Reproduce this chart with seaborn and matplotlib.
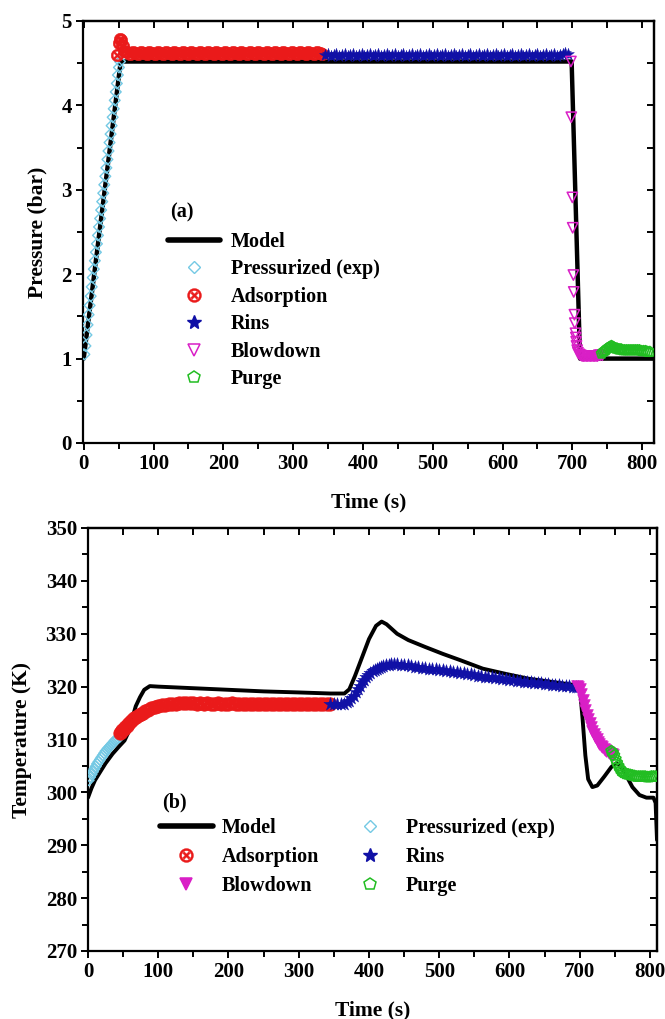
import matplotlib
matplotlib.use("Agg")
import numpy as np
import pandas as pd
import matplotlib.pyplot as plt
from matplotlib.lines import Line2D
from matplotlib.ticker import MultipleLocator
import seaborn as sns

# ---------------- data: panel (a) pressure ----------------
model_a = [(0, 1.0), (53, 4.52), (699, 4.52), (711, 1.0), (817, 1.0)]

press_a = [(1, 1.05), (2.5, 1.15), (4, 1.28), (5.5, 1.40), (7, 1.52), (8.5, 1.63), (10, 1.74),
           (11.5, 1.85), (13, 1.96), (14.5, 2.06), (16, 2.16), (17.5, 2.26), (19, 2.36),
           (20.5, 2.46), (22, 2.56), (23.5, 2.66), (25, 2.76), (26.5, 2.86), (28, 2.96),
           (29.5, 3.06), (31, 3.16), (32.5, 3.26), (34, 3.36), (35.5, 3.46), (37, 3.56),
           (38.5, 3.66), (40, 3.76), (41.5, 3.86), (43, 3.96), (44.5, 4.06), (46, 4.16),
           (47.5, 4.26), (49, 4.36), (50.5, 4.45), (52, 4.52)]

ads_a = [(48, 4.60), (50, 4.74), (52, 4.79), (54, 4.77), (56, 4.70), (58, 4.65), (62, 4.63),
         (66, 4.61), (70, 4.63), (74, 4.62), (78, 4.61), (82, 4.63), (86, 4.62), (90, 4.61),
         (94, 4.63), (98, 4.62), (102, 4.61), (106, 4.63), (110, 4.62), (114, 4.61),
         (118, 4.63), (122, 4.62), (126, 4.61), (130, 4.63), (134, 4.62), (138, 4.61),
         (142, 4.63), (146, 4.62), (150, 4.61), (154, 4.63), (158, 4.62), (162, 4.61),
         (166, 4.63), (170, 4.62), (174, 4.61), (178, 4.63), (182, 4.62), (186, 4.61),
         (190, 4.63), (194, 4.62), (198, 4.61), (202, 4.63), (206, 4.62), (210, 4.61),
         (214, 4.63), (218, 4.62), (222, 4.61), (226, 4.63), (230, 4.62), (234, 4.61),
         (238, 4.63), (242, 4.62), (246, 4.61), (250, 4.63), (254, 4.62), (258, 4.61),
         (262, 4.63), (266, 4.62), (270, 4.61), (274, 4.63), (278, 4.62), (282, 4.61),
         (286, 4.63), (290, 4.62), (294, 4.61), (298, 4.63), (302, 4.62), (306, 4.61),
         (310, 4.63), (314, 4.62), (318, 4.61), (322, 4.63), (326, 4.62), (330, 4.61),
         (334, 4.63), (338, 4.62), (342, 4.61)]

rins_a = [(346, 4.60), (350, 4.61), (354, 4.59), (358, 4.60), (362, 4.61), (366, 4.59),
          (370, 4.60), (374, 4.61), (378, 4.59), (382, 4.60), (386, 4.61), (390, 4.59),
          (394, 4.60), (398, 4.61), (402, 4.59), (406, 4.60), (410, 4.61), (414, 4.59),
          (418, 4.60), (422, 4.61), (426, 4.59), (430, 4.60), (434, 4.61), (438, 4.59),
          (442, 4.60), (446, 4.61), (450, 4.59), (454, 4.60), (458, 4.61), (462, 4.59),
          (466, 4.60), (470, 4.61), (474, 4.59), (478, 4.60), (482, 4.61), (486, 4.59),
          (490, 4.60), (494, 4.61), (498, 4.59), (502, 4.60), (506, 4.61), (510, 4.59),
          (514, 4.60), (518, 4.61), (522, 4.59), (526, 4.60), (530, 4.61), (534, 4.59),
          (538, 4.60), (542, 4.61), (546, 4.59), (550, 4.60), (554, 4.61), (558, 4.59),
          (562, 4.60), (566, 4.61), (570, 4.59), (574, 4.60), (578, 4.61), (582, 4.59),
          (586, 4.60), (590, 4.61), (594, 4.59), (598, 4.60), (602, 4.61), (606, 4.59),
          (610, 4.60), (614, 4.61), (618, 4.59), (622, 4.60), (626, 4.61), (630, 4.59),
          (634, 4.60), (638, 4.61), (642, 4.59), (646, 4.60), (650, 4.61), (654, 4.59),
          (658, 4.60), (662, 4.61), (666, 4.59), (670, 4.60), (674, 4.61), (678, 4.59),
          (682, 4.60), (686, 4.61), (690, 4.62), (694, 4.61)]

blow_a = [(698, 4.52), (698.5, 3.86), (700, 2.91), (700.5, 2.55), (701.5, 1.99), (702, 1.79),
          (703, 1.52), (703.5, 1.42), (704.5, 1.30), (705, 1.25), (705.5, 1.20), (706, 1.15),
          (707, 1.10), (708, 1.07), (710, 1.05), (712, 1.04), (714, 1.03), (716, 1.03),
          (718, 1.03), (720, 1.03), (722, 1.03), (724, 1.03), (726, 1.03), (728, 1.03),
          (730, 1.03), (732, 1.03), (734, 1.03), (736, 1.03), (738, 1.04), (740, 1.04),
          (743, 1.04)]

purge_a = [(742, 1.06), (744, 1.08), (746, 1.09), (748, 1.10), (750, 1.12), (752, 1.13),
           (754, 1.14), (756, 1.15), (758, 1.14), (760, 1.13), (762, 1.12), (764, 1.12),
           (766, 1.11), (768, 1.11), (770, 1.11), (772, 1.10), (775, 1.10), (778, 1.10),
           (781, 1.10), (784, 1.10), (787, 1.10), (790, 1.10), (793, 1.10), (796, 1.10),
           (799, 1.09), (802, 1.09), (805, 1.09), (808, 1.08), (811, 1.08)]

# ---------------- data: panel (b) temperature ----------------
model_b = [(0, 299.0), (5, 300.8), (10, 302.3), (17, 303.8), (25, 305.5), (35, 307.3),
           (45, 308.8), (52, 309.8), (58, 311.5), (63, 314.0), (68, 316.3), (74, 318.0),
           (80, 319.4), (88, 320.1), (100, 320.0), (150, 319.7), (200, 319.4), (250, 319.1),
           (300, 318.9), (345, 318.7), (365, 318.7), (372, 319.5), (380, 322.0), (390, 325.5),
           (400, 329.0), (410, 331.5), (418, 332.3), (425, 331.8), (440, 330.0), (456, 328.8),
           (480, 327.5), (505, 326.2), (530, 325.0), (562, 323.4), (595, 322.4), (627, 321.5),
           (660, 320.9), (693, 320.3), (700, 320.0), (704, 314.0), (708, 307.0), (712, 302.5),
           (718, 301.0), (725, 301.3), (735, 303.0), (745, 304.8), (752, 305.5), (758, 305.0),
           (765, 303.5), (775, 301.0), (785, 299.5), (795, 299.0), (805, 299.0), (808, 298.0),
           (810, 291.0)]

press_b = [(1, 302.3), (3, 302.9), (5, 303.4), (7, 303.9), (9, 304.4), (11, 304.9), (13, 305.4),
           (15, 305.8), (17, 306.2), (19, 306.6), (21, 307.0), (23, 307.4), (25, 307.8),
           (27, 308.1), (29, 308.4), (31, 308.7), (33, 309.0), (35, 309.3), (37, 309.6),
           (39, 309.9), (41, 310.1), (43, 310.3), (45, 310.5)]

ads_b = [(45, 311.2), (47, 311.5), (49, 311.8), (51, 312.0), (53, 312.3), (55, 312.6),
         (57, 312.9), (60, 313.3), (63, 313.7), (66, 314.0), (69, 314.3), (72, 314.6),
         (75, 314.9), (78, 315.1), (81, 315.3), (85, 315.6), (90, 315.9), (95, 316.1),
         (100, 316.3), (105, 316.5), (110, 316.6), (115, 316.7), (120, 316.8), (125, 316.8),
         (130, 316.9), (135, 316.9), (140, 316.9), (145, 316.9), (150, 316.9), (155, 316.8),
         (160, 316.9), (165, 316.8), (170, 316.9), (175, 316.8), (180, 316.8), (185, 316.9),
         (190, 316.8), (195, 316.8), (200, 316.8), (205, 316.9), (210, 316.8), (215, 316.8),
         (220, 316.7), (225, 316.8), (230, 316.7), (235, 316.8), (240, 316.7), (245, 316.7),
         (250, 316.8), (255, 316.7), (260, 316.7), (265, 316.8), (270, 316.7), (275, 316.7),
         (280, 316.7), (285, 316.8), (290, 316.7), (295, 316.7), (300, 316.7), (305, 316.8),
         (310, 316.7), (315, 316.7), (320, 316.7), (325, 316.7), (330, 316.7), (335, 316.7),
         (340, 316.7), (344, 316.7)]

rins_b = [(345, 316.7), (350, 316.7), (355, 316.7), (360, 316.7), (365, 316.8), (369, 317.0),
          (372, 317.3), (375, 317.8), (378, 318.3), (381, 318.9), (384, 319.6), (387, 320.2),
          (390, 320.8), (393, 321.3), (396, 321.8), (399, 322.2), (402, 322.6), (405, 322.9),
          (408, 323.2), (411, 323.4), (414, 323.6), (417, 323.8), (420, 323.9), (424, 324.0),
          (428, 324.1), (432, 324.2), (436, 324.2), (440, 324.2), (445, 324.1), (450, 324.0),
          (455, 324.0), (460, 323.9), (465, 323.8), (470, 323.7), (475, 323.6), (480, 323.6),
          (485, 323.4), (490, 323.4), (495, 323.3), (500, 323.2), (505, 323.1), (510, 323.0),
          (515, 322.9), (520, 322.8), (525, 322.7), (530, 322.6), (535, 322.5), (540, 322.4),
          (545, 322.3), (550, 322.2), (555, 322.1), (560, 322.0), (565, 321.9), (570, 321.8),
          (575, 321.8), (580, 321.7), (585, 321.6), (590, 321.5), (595, 321.4), (600, 321.3),
          (605, 321.2), (610, 321.1), (615, 321.0), (620, 320.9), (625, 320.9), (630, 320.8),
          (635, 320.7), (640, 320.7), (645, 320.6), (650, 320.5), (655, 320.5), (660, 320.4),
          (665, 320.3), (670, 320.3), (675, 320.2), (680, 320.2), (685, 320.1), (690, 320.0),
          (695, 320.0), (698, 320.0)]

blow_b = [(696, 320.2), (698, 320.0), (700, 319.5), (702, 318.6), (704, 317.5), (706, 316.5),
          (708, 315.5), (710, 314.7), (712, 313.9), (714, 313.1), (716, 312.3), (718, 311.6),
          (720, 311.0), (722, 310.5), (724, 310.0), (726, 309.6), (728, 309.2), (730, 308.8),
          (732, 308.5), (734, 308.2), (736, 308.0), (738, 307.8), (740, 307.6), (742, 307.4),
          (744, 307.3), (746, 307.2), (748, 307.1)]

purge_b = [(745, 307.8), (747, 307.5), (749, 307.0), (751, 306.3), (753, 305.6), (755, 305.0),
           (757, 304.5), (759, 304.1), (761, 303.9), (763, 303.7), (766, 303.5), (769, 303.4),
           (772, 303.3), (775, 303.2), (778, 303.1), (781, 303.0), (784, 303.0), (787, 303.0),
           (790, 303.0), (793, 303.0), (796, 302.9), (799, 302.9), (802, 303.0), (805, 303.0),
           (808, 303.0)]

x_ticks = [0, 100, 200, 300, 400, 500, 600, 700, 800]
p_ticks = [0, 1, 2, 3, 4, 5]
t_ticks = [270, 280, 290, 300, 310, 320, 330, 340, 350]

labels = ["Model", "Pressurized (exp)", "Adsorption", "Rins", "Blowdown", "Purge"]

CYAN = "#74c9e4"
RED = "#ea1a1a"
BLUE = "#1010a6"
MAG = "#d91fc6"
GREEN = "#22bd22"

# ---------------- style ----------------
sns.set_theme(style="ticks")
plt.rcParams["font.family"] = ["Liberation Serif", "DejaVu Serif"]
plt.rcParams["font.weight"] = "bold"
plt.rcParams["axes.labelweight"] = "bold"
plt.rcParams["mathtext.fontset"] = "dejavusans"
for k in ["text.color", "axes.labelcolor", "xtick.color", "ytick.color", "axes.edgecolor"]:
    plt.rcParams[k] = "black"

fig = plt.figure(figsize=(6.65, 10.19), dpi=100)
axA = fig.add_axes([83 / 665, 1 - 443 / 1019, 571 / 665, 422 / 1019])
axB = fig.add_axes([88 / 665, 1 - 951 / 1019, 569 / 665, 423 / 1019])


def df_of(pairs):
    return pd.DataFrame(pairs, columns=["t", "v"])


def model(ax, pairs, lw):
    sns.lineplot(data=df_of(pairs), x="t", y="v", color="black", lw=lw, ax=ax,
                 sort=False, estimator=None, zorder=2, legend=False)


def pts(ax, pairs, marker, s, color, filled, lw=1.0):
    d = df_of(pairs)
    if filled:
        sns.scatterplot(data=d, x="t", y="v", marker=marker, s=s, color=color,
                        edgecolor=color, linewidth=lw, ax=ax, zorder=3, legend=False)
    else:
        sns.scatterplot(data=d, x="t", y="v", marker=marker, s=s, facecolor="none",
                        edgecolor=color, linewidth=lw, ax=ax, zorder=3, legend=False)


OTIMES = r"$\otimes$"

# panel (a)
model(axA, model_a, 3.2)
pts(axA, press_a, "D", 30, CYAN, False, 1.0)
pts(axA, ads_a, OTIMES, 80, RED, True, 0.4)
pts(axA, rins_a, "*", 80, BLUE, True, 0.3)
pts(axA, blow_a, "v", 55, MAG, False, 1.1)
pts(axA, purge_a, "p", 60, GREEN, False, 1.2)

# panel (b)
model(axB, model_b, 2.8)
pts(axB, press_b, "D", 30, CYAN, False, 1.0)
pts(axB, ads_b, OTIMES, 95, RED, True, 0.4)
pts(axB, rins_b, "*", 100, BLUE, True, 0.3)
pts(axB, blow_b, "v", 70, MAG, True, 0.5)
pts(axB, purge_b, "p", 65, GREEN, False, 1.2)


def style(ax, xlim, ylim, yticks, ymin_step, ylabel):
    ax.set_xlim(*xlim)
    ax.set_ylim(*ylim)
    ax.set_xticks(x_ticks)
    ax.set_yticks(yticks)
    ax.xaxis.set_minor_locator(MultipleLocator(50))
    ax.yaxis.set_minor_locator(MultipleLocator(ymin_step))
    ax.tick_params(which="both", direction="out", top=False, right=False, width=1.4,
                   labelsize=15, pad=3)
    ax.tick_params(which="major", length=5)
    ax.tick_params(which="minor", length=4.5)
    for lab in ax.get_xticklabels() + ax.get_yticklabels():
        lab.set_fontweight("bold")
    for sp in ax.spines.values():
        sp.set_linewidth(1.6)
        sp.set_color("black")
    sx = ax.secondary_xaxis("top")
    sx.xaxis.set_major_locator(MultipleLocator(50))
    sx.tick_params(direction="in", labeltop=False, length=5, width=1.4)
    sx.spines["top"].set_linewidth(1.6)
    sy = ax.secondary_yaxis("right")
    sy.yaxis.set_major_locator(MultipleLocator(ymin_step))
    sy.tick_params(direction="in", labelright=False, length=5, width=1.4)
    sy.spines["right"].set_linewidth(1.6)
    ax.set_xlabel("Time (s)", fontsize=15.5, fontweight="bold", labelpad=13)
    ax.set_ylabel(ylabel, fontsize=15.5, fontweight="bold", labelpad=10)


style(axA, (-1, 817), (0, 5), p_ticks, 0.5, "Pressure (bar)")
style(axB, (0, 810), (270, 350), t_ticks, 5, "Temperature (K)")

# ---------------- legends ----------------
def handles(filled_blow):
    return [
        Line2D([], [], color="black", lw=4),
        Line2D([], [], ls="none", marker="D", ms=6, mfc="none", mec=CYAN, mew=1.0),
        Line2D([], [], ls="none", marker=OTIMES, ms=10, color=RED, mew=0.3),
        Line2D([], [], ls="none", marker="*", ms=10, color=BLUE),
        Line2D([], [], ls="none", marker="v", ms=9, color=MAG,
               mfc=MAG if filled_blow else "none", mew=1.1),
        Line2D([], [], ls="none", marker="p", ms=9, mfc="none", mec=GREEN, mew=1.1),
    ]


prop = {"family": "Liberation Serif", "weight": "bold", "size": 14.5}
legA = axA.legend(handles(False), labels, loc="upper left", bbox_to_anchor=(0.149, 0.500),
                  frameon=False, prop=prop, borderpad=0, handlelength=2.6,
                  handletextpad=0.5, labelspacing=0.37, borderaxespad=0)
axA.text(0.152, 0.547, "(a)", transform=axA.transAxes, fontsize=14.5, fontweight="bold",
         va="center", ha="left")

hB = handles(True)
order = [0, 2, 4, 1, 3, 5]
legB = axB.legend([hB[i] for i in order], [labels[i] for i in order], loc="upper left",
                  bbox_to_anchor=(0.127, 0.314), ncol=2, frameon=False, prop=prop,
                  borderpad=0, handlelength=2.6, handletextpad=0.45, labelspacing=0.45,
                  columnspacing=1.25, borderaxespad=0)
axB.text(0.130, 0.352, "(b)", transform=axB.transAxes, fontsize=14.5, fontweight="bold",
         va="center", ha="left")

fig.savefig("out.png", dpi=100)
